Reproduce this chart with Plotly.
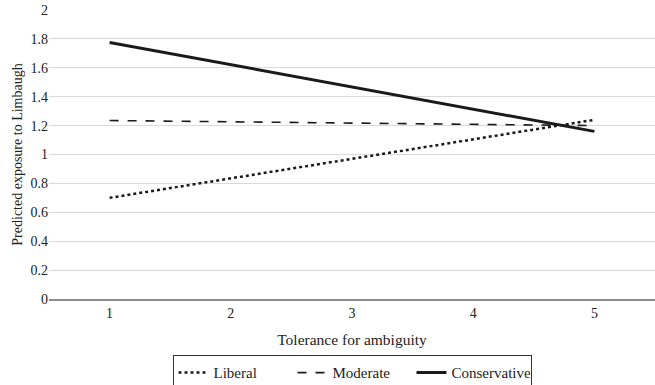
import plotly.graph_objects as go

tolerance = ["1", "2", "3", "4", "5"]
liberal = [0.70, 0.835, 0.97, 1.105, 1.24]
moderate = [1.235, 1.226, 1.218, 1.209, 1.20]
conservative = [1.775, 1.62, 1.47, 1.315, 1.16]

FONT = "Liberation Serif"
fig = go.Figure()
fig.add_trace(go.Scatter(x=tolerance, y=liberal, mode="lines", name="Liberal",
                         line=dict(color="#1a1a1a", width=2.5, dash="dot")))
fig.add_trace(go.Scatter(x=tolerance, y=moderate, mode="lines", name="Moderate",
                         line=dict(color="#1a1a1a", width=1.6, dash="dash")))
fig.add_trace(go.Scatter(x=tolerance, y=conservative, mode="lines", name="Conservative",
                         line=dict(color="#1a1a1a", width=3)))

fig.update_layout(
    width=655, height=385,
    margin=dict(l=49, r=0, t=10, b=86, autoexpand=False),
    paper_bgcolor="white", plot_bgcolor="white",
    font=dict(family=FONT, size=14, color="#222"),
    showlegend=True,
    legend=dict(orientation="h", x=0.5, xanchor="center", y=-0.195, yanchor="top",
                bordercolor="#333", borderwidth=1, font=dict(size=15, family=FONT),
                entrywidth=74, entrywidthmode="pixels", tracegroupgap=0),
    xaxis=dict(type="category", range=[-0.5, 4.5], showgrid=False, showline=True,
               linecolor="#8c8c8c", linewidth=2, ticks="", zeroline=False, automargin=False,
               tickfont=dict(size=14, family=FONT),
               title=dict(text="Tolerance for ambiguity", standoff=14, font=dict(size=15.5, family=FONT))),
    yaxis=dict(range=[0, 2], dtick=0.2, tickformat="~g", showgrid=True, automargin=False,
               gridcolor="#d9d9d9", gridwidth=1, zeroline=False, ticks="",
               tickfont=dict(size=14, family=FONT),
               title=dict(text="Predicted exposure to Limbaugh", standoff=4, font=dict(size=14, family=FONT))),
)
fig.write_html("out.html", config={"displayModeBar": False},
               post_script="document.body.style.margin='0px';document.body.style.padding='0px';")
